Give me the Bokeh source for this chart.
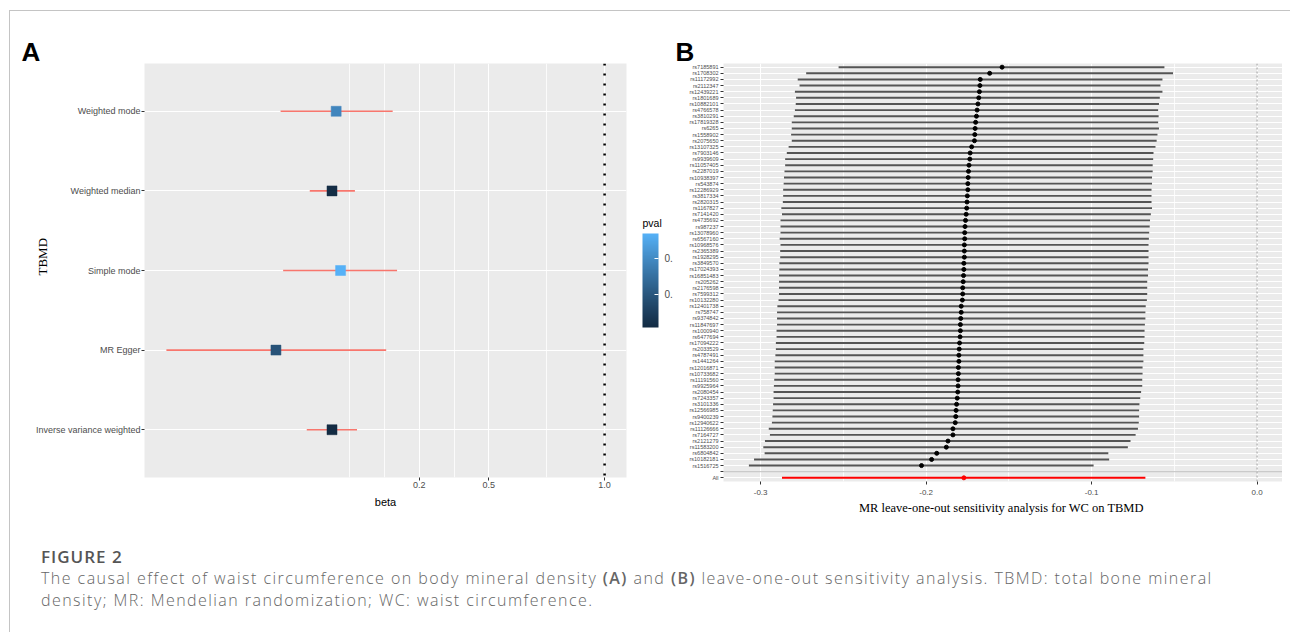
import math
from bokeh.plotting import figure
from bokeh.models import (Range1d, FixedTicker, PrintfTickFormatter, ColumnDataSource,
                          LinearColorMapper, ColorBar, Div, Span, Title)
from bokeh.layouts import row, column
from bokeh.transform import transform
from bokeh.embed import file_html
from bokeh.resources import INLINE

# ---------------- Panel A data ----------------
methods = ["Inverse variance weighted", "MR Egger", "Simple mode", "Weighted median", "Weighted mode"]
beta = [-0.177, -0.419, -0.140, -0.177, -0.159]
ci_lo = [-0.286, -0.892, -0.388, -0.273, -0.399]
ci_hi = [-0.069, 0.057, 0.104, -0.078, 0.085]
pval = [0.007, 0.090, 0.269, 0.012, 0.190]
ref_line_a = 1.0
xticks_a = [0.2, 0.5, 1.0]
xminor_a = [-0.1, 0.05, 0.35, 0.75]
pval_ticks = [0.1, 0.2]

# ---------------- Panel B data (top row first) ----------------
snps = ["rs7185891", "rs1708302", "rs11172992", "rs2112347", "rs12439221", "rs1801689",
        "rs10882101", "rs4766578", "rs3810291", "rs17819328", "rs6265", "rs1558902",
        "rs2075650", "rs13107325", "rs7903146", "rs9939609", "rs11057405", "rs2287019",
        "rs10938397", "rs543874", "rs12286929", "rs3817334", "rs2820315", "rs1167827",
        "rs7141420", "rs4735692", "rs987237", "rs13078960", "rs6567160", "rs10968576",
        "rs2365389", "rs1928295", "rs3849570", "rs17024393", "rs16851483", "rs205262",
        "rs2176598", "rs7599312", "rs10132280", "rs12401738", "rs758747", "rs9374842",
        "rs11847697", "rs1000940", "rs6477694", "rs17094222", "rs2033529", "rs4787491",
        "rs1441264", "rs12016871", "rs10733682", "rs11191560", "rs9925964", "rs2080454",
        "rs7243357", "rs3101336", "rs12566985", "rs9400239", "rs12940622", "rs11126666",
        "rs7164727", "rs2121279", "rs11583200", "rs6804842", "rs10182181", "rs1516725"]
loo_b = [-0.1541, -0.1616, -0.1673, -0.1675, -0.1678, -0.1682, -0.1687, -0.1692, -0.1696, -0.1701,
         -0.1704, -0.1706, -0.1708, -0.1725, -0.1734, -0.1736, -0.1741, -0.1744, -0.1746, -0.1748,
         -0.1748, -0.1751, -0.1753, -0.1755, -0.1758, -0.1762, -0.1765, -0.1767, -0.1767, -0.1769,
         -0.1769, -0.1769, -0.1772, -0.1772, -0.1774, -0.1776, -0.1779, -0.1779, -0.1781, -0.1788,
         -0.1788, -0.1791, -0.1793, -0.1793, -0.1795, -0.1798, -0.1800, -0.1802, -0.1802, -0.1805,
         -0.1805, -0.1807, -0.1807, -0.1809, -0.1812, -0.1816, -0.1819, -0.1821, -0.1824, -0.1838,
         -0.1838, -0.1868, -0.1878, -0.1936, -0.1967, -0.2028]
loo_lo = [-0.2529, -0.2725, -0.2776, -0.2765, -0.2793, -0.2786, -0.2788, -0.2793, -0.2800, -0.2812,
          -0.2812, -0.2816, -0.2812, -0.2831, -0.2842, -0.2852, -0.2852, -0.2856, -0.2859, -0.2861,
          -0.2864, -0.2864, -0.2866, -0.2875, -0.2871, -0.2880, -0.2880, -0.2880, -0.2885, -0.2880,
          -0.2882, -0.2882, -0.2887, -0.2887, -0.2889, -0.2889, -0.2889, -0.2889, -0.2892, -0.2899,
          -0.2901, -0.2901, -0.2901, -0.2904, -0.2904, -0.2908, -0.2908, -0.2911, -0.2915, -0.2915,
          -0.2915, -0.2918, -0.2920, -0.2922, -0.2922, -0.2925, -0.2927, -0.2929, -0.2932, -0.2951,
          -0.2944, -0.2974, -0.2984, -0.2976, -0.3040, -0.3071]
loo_hi = [-0.0560, -0.0508, -0.0572, -0.0584, -0.0572, -0.0588, -0.0593, -0.0598, -0.0595, -0.0598,
          -0.0593, -0.0602, -0.0607, -0.0614, -0.0626, -0.0628, -0.0631, -0.0631, -0.0635, -0.0635,
          -0.0638, -0.0638, -0.0638, -0.0635, -0.0642, -0.0647, -0.0649, -0.0652, -0.0654, -0.0656,
          -0.0656, -0.0656, -0.0656, -0.0659, -0.0659, -0.0664, -0.0664, -0.0664, -0.0666, -0.0673,
          -0.0675, -0.0675, -0.0678, -0.0680, -0.0680, -0.0682, -0.0687, -0.0687, -0.0687, -0.0692,
          -0.0692, -0.0694, -0.0694, -0.0701, -0.0706, -0.0711, -0.0713, -0.0713, -0.0715, -0.0720,
          -0.0734, -0.0765, -0.0781, -0.0899, -0.0894, -0.0988]
all_label = "All"
all_b = -0.1772
all_lo = -0.2871
all_hi = -0.0675
ref_line_b = 0.0
xticks_b = [-0.3, -0.2, -0.1, 0.0]
xminor_b = [-0.25, -0.15, -0.05]

# ---------------- helpers: ggplot-like gradient in CIELAB ----------------
def _hex2rgb(h):
    h = h.lstrip("#")
    return [int(h[i:i + 2], 16) / 255 for i in (0, 2, 4)]

def _lin(c):
    return c / 12.92 if c <= 0.04045 else ((c + 0.055) / 1.055) ** 2.4

def _gam(c):
    c = max(0.0, min(1.0, c))
    return 12.92 * c if c <= 0.0031308 else 1.055 * c ** (1 / 2.4) - 0.055

WHITE = (0.95047, 1.0, 1.08883)

def _to_lab(h):
    r, g, b = [_lin(c) for c in _hex2rgb(h)]
    X = 0.4124 * r + 0.3576 * g + 0.1805 * b
    Y = 0.2126 * r + 0.7152 * g + 0.0722 * b
    Z = 0.0193 * r + 0.1192 * g + 0.9505 * b
    f = lambda t: t ** (1 / 3) if t > 0.008856 else 7.787 * t + 16 / 116
    fx, fy, fz = f(X / WHITE[0]), f(Y / WHITE[1]), f(Z / WHITE[2])
    return (116 * fy - 16, 500 * (fx - fy), 200 * (fy - fz))

def _from_lab(L, a, bb):
    fy = (L + 16) / 116
    fx = fy + a / 500
    fz = fy - bb / 200
    inv = lambda t: t ** 3 if t ** 3 > 0.008856 else (t - 16 / 116) / 7.787
    X, Y, Z = inv(fx) * WHITE[0], inv(fy) * WHITE[1], inv(fz) * WHITE[2]
    r = 3.2406 * X - 1.5372 * Y - 0.4986 * Z
    g = -0.9689 * X + 1.8758 * Y + 0.0415 * Z
    b = 0.0557 * X - 0.2040 * Y + 1.0570 * Z
    return "#%02x%02x%02x" % tuple(int(round(_gam(c) * 255)) for c in (r, g, b))

lab_lo, lab_hi = _to_lab("#132B43"), _to_lab("#56B1F7")
palette = [_from_lab(*[lab_lo[k] + (lab_hi[k] - lab_lo[k]) * i / 255 for k in range(3)]) for i in range(256)]

GRID_BG = "#EBEBEB"
TICK_TXT = "#4D4D4D"
SANS = "Liberation Sans"
SERIF = "Liberation Serif"

# geometry (canvas pixels)
H = 520
A_LEFT, A_TOP, A_FW, A_FH, A_RIGHT = 144, 63, 482, 414, 50
B_LEFT, B_TOP, B_FW, B_FH = 47, 63, 559, 418

def panel_tag(p, text, offset):
    p.title.text = text
    p.title.align = "left"
    p.title.offset = offset
    p.title.standoff = -6
    p.title.vertical_align = "bottom"
    p.title.text_font = SANS
    p.title.text_font_size = "26px"
    p.title.text_font_style = "bold"
    p.title.text_color = "#000000"

# ================= Panel A =================
ya = list(range(1, len(methods) + 1))
src_a = ColumnDataSource(dict(y=ya, beta=beta, lo=ci_lo, hi=ci_hi, pval=pval))
lo_a = min(ci_lo + [ref_line_a]); hi_a = max(ci_hi + [ref_line_a])
pad_a = 0.05 * (hi_a - lo_a)

pA = figure(output_backend="svg", toolbar_location=None,
            frame_width=A_FW, frame_height=A_FH,
            min_border_left=A_LEFT, min_border_right=A_RIGHT, min_border_top=A_TOP,
            min_border_bottom=H - A_TOP - A_FH,
            x_range=Range1d(lo_a - pad_a, hi_a + pad_a), y_range=Range1d(0.4, len(methods) + 0.6))
pA.border_fill_color = None
pA.outline_line_color = None
pA.background_fill_color = GRID_BG
panel_tag(pA, "A", -123)

pA.xaxis.ticker = FixedTicker(ticks=xticks_a, minor_ticks=xminor_a)
pA.xaxis.formatter = PrintfTickFormatter(format="%.1f")
pA.yaxis.ticker = FixedTicker(ticks=ya)
pA.yaxis.major_label_overrides = {y: m for y, m in zip(ya, methods)}
for ax in (pA.xaxis[0], pA.yaxis[0]):
    ax.axis_line_color = None
    ax.major_tick_line_color = "#333333"
    ax.major_tick_in = 0
    ax.major_tick_out = 3
    ax.minor_tick_line_color = None
    ax.major_label_text_color = TICK_TXT
    ax.major_label_text_font = SANS
    ax.major_label_text_font_size = "9px"
    ax.axis_label_text_font_style = "normal"
    ax.axis_label_text_color = "#000000"
pA.xaxis.major_label_standoff = 0
pA.yaxis.major_label_standoff = 1
pA.xaxis.axis_label = "beta"
pA.xaxis.axis_label_text_font = SANS
pA.xaxis.axis_label_text_font_size = "11px"
pA.xaxis.axis_label_standoff = 5
# y-axis title, set as a side title so that it can sit a little above the panel's centre
pA.add_layout(Title(text="TBMD", align="left", offset=202, standoff=-35, vertical_align="bottom",
                    text_font=SERIF, text_font_size="13px", text_font_style="normal",
                    text_color="#000000"), "left")

pA.xgrid.ticker = FixedTicker(ticks=xticks_a, minor_ticks=xminor_a)
pA.xgrid.grid_line_color = "white"
pA.xgrid.grid_line_width = 1.1
pA.xgrid.minor_grid_line_color = "white"
pA.xgrid.minor_grid_line_width = 0.8
pA.ygrid.ticker = FixedTicker(ticks=ya)
pA.ygrid.grid_line_color = "white"
pA.ygrid.grid_line_width = 1.1

pA.add_layout(Span(location=ref_line_a, dimension="height", line_color="black",
                   line_width=2.5, line_dash="2 8"))

mapper = LinearColorMapper(palette=palette, low=min(pval), high=max(pval))
pA.segment(x0="lo", y0="y", x1="hi", y1="y", source=src_a, line_color="#F8766D", line_width=1.6)
pA.scatter(x="beta", y="y", source=src_a, marker="square", size=10,
           fill_color=transform("pval", mapper), line_color=transform("pval", mapper), line_width=0.5)

cbar = ColorBar(color_mapper=mapper, ticker=FixedTicker(ticks=pval_ticks),
                major_label_overrides={t: "0." for t in pval_ticks},
                width=16, height=94, location=(A_FW + 16, 150), margin=0, padding=0,
                label_standoff=6, major_label_text_font=SANS, major_label_text_font_size="10px",
                major_label_text_color=TICK_TXT,
                major_tick_line_color="white", major_tick_in=4, major_tick_out=0,
                bar_line_color=None, background_fill_color=None, border_line_color=None)
pA.add_layout(cbar)
# legend title "pval", set horizontally above the bar
cbar_title = ColorBar(color_mapper=mapper, orientation="horizontal", ticker=FixedTicker(ticks=[]),
                      title="pval", title_text_font=SANS, title_text_font_size="10.5px",
                      title_text_font_style="normal", title_text_color="#000000", title_standoff=0,
                      width=16, height=1, scale_alpha=0, location=(A_FW + 16, A_TOP + A_FH - 229),
                      margin=0, padding=0, major_label_text_alpha=0, major_tick_line_color=None,
                      bar_line_color=None, background_fill_color=None, border_line_color=None)
pA.add_layout(cbar_title)

# ================= Panel B =================
n = len(snps)
yb = [n + 3 - 1 - i for i in range(n)]          # top row -> highest position
blank_pos = 2
all_pos = 1
src_b = ColumnDataSource(dict(y=yb, b=loo_b, lo=loo_lo, hi=loo_hi))
lo_b = min(loo_lo + [all_lo, ref_line_b]); hi_b = max(loo_hi + [all_hi, ref_line_b])
pad_b = 0.05 * (hi_b - lo_b)

pB = figure(output_backend="svg", toolbar_location=None,
            frame_width=B_FW, frame_height=B_FH,
            min_border_left=B_LEFT, min_border_right=0, min_border_top=B_TOP,
            min_border_bottom=H - B_TOP - B_FH,
            x_range=Range1d(lo_b - pad_b, hi_b + pad_b), y_range=Range1d(0.4, n + 2 + 0.6))
pB.border_fill_color = None
pB.outline_line_color = None
pB.background_fill_color = GRID_BG
panel_tag(pB, "B", -48)

yticks_b = [all_pos, blank_pos] + yb[::-1]
overrides_b = {all_pos: all_label, blank_pos: ""}
overrides_b.update({y: s for y, s in zip(yb, snps)})
pB.xaxis.ticker = FixedTicker(ticks=xticks_b, minor_ticks=xminor_b)
pB.xaxis.formatter = PrintfTickFormatter(format="%.1f")
pB.yaxis.ticker = FixedTicker(ticks=yticks_b)
pB.yaxis.major_label_overrides = overrides_b
for ax in (pB.xaxis[0], pB.yaxis[0]):
    ax.axis_line_color = None
    ax.major_tick_line_color = "#333333"
    ax.major_tick_in = 0
    ax.major_tick_out = 3
    ax.minor_tick_line_color = None
    ax.major_label_text_color = TICK_TXT
    ax.major_label_text_font = SANS
pB.xaxis.major_label_text_font_size = "8px"
pB.yaxis.major_label_text_font_size = "5.5px"
pB.xaxis.major_label_standoff = 4
pB.yaxis.major_label_standoff = 2
pB.xaxis.axis_label = "MR leave-one-out  sensitivity analysis for WC on TBMD"
pB.xaxis.axis_label_text_font = SERIF
pB.xaxis.axis_label_text_font_size = "12.5px"
pB.xaxis.axis_label_text_font_style = "normal"
pB.xaxis.axis_label_text_color = "#000000"
pB.xaxis.axis_label_standoff = 3

pB.xgrid.ticker = FixedTicker(ticks=xticks_b, minor_ticks=xminor_b)
pB.xgrid.grid_line_color = "white"
pB.xgrid.grid_line_width = 1.1
pB.xgrid.minor_grid_line_color = "white"
pB.xgrid.minor_grid_line_width = 0.8
pB.ygrid.ticker = FixedTicker(ticks=yticks_b)
pB.ygrid.grid_line_color = "white"
pB.ygrid.grid_line_width = 1.0

pB.add_layout(Span(location=ref_line_b, dimension="height", line_color="#9a9a9a",
                   line_width=1, line_dash="2 2"))
pB.add_layout(Span(location=blank_pos, dimension="width", line_color="#BEBEBE", line_width=1))

pB.segment(x0="lo", y0="y", x1="hi", y1="y", source=src_b, line_color="#555555", line_width=1.9)
pB.scatter(x="b", y="y", source=src_b, size=4, color="black")
pB.segment(x0=[all_lo], y0=[all_pos], x1=[all_hi], y1=[all_pos], line_color="#FF0000", line_width=2)
pB.scatter(x=[all_b], y=[all_pos], size=4, color="#FF0000")

# ================= Caption =================
caption_html = (
    '<div style="padding:22px 0 0 36px;font-family:\'Open Sans\',sans-serif;white-space:nowrap;">'
    '<div style="font-weight:600;font-size:17px;line-height:20px;letter-spacing:1px;color:#555555;">FIGURE 2</div>'
    '<div style="font-weight:300;font-size:16px;line-height:22px;letter-spacing:1.45px;color:#666666;">'
    'The causal effect of waist circumference on body mineral density <b style="font-weight:600">(A)</b> and '
    '<b style="font-weight:600">(B)</b> '
    'leave-one-out sensitivity analysis. TBMD: total bone mineral<br>'
    'density; MR: Mendelian randomization; WC: waist circumference.</div></div>'
)
cap = Div(text=caption_html, width=A_LEFT + A_FW + A_RIGHT + B_LEFT + B_FW, height=104)

layout = column(row(pA, pB), cap, styles={
    "background-image": "linear-gradient(#c4c4c4,#c4c4c4), linear-gradient(#c4c4c4,#c4c4c4)",
    "background-size": "100% 1px, 1px 100%",
    "background-position": "9px 10px, 9px 10px",
    "background-repeat": "no-repeat",
})

open("out.html", "w").write(file_html(layout, INLINE))
